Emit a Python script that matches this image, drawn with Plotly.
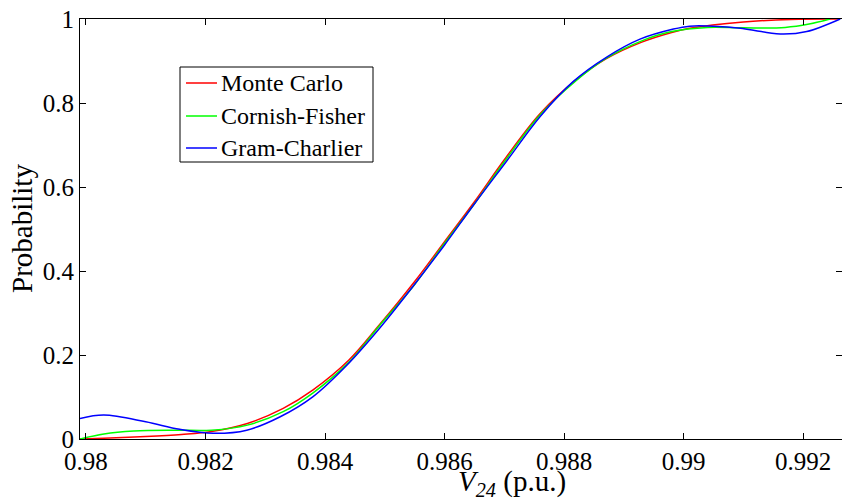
import plotly.graph_objects as go

# Monte Carlo
mc_x = [0.9799, 0.9803, 0.9810, 0.9816, 0.9821, 0.9827, 0.9833, 0.9838, 0.9844, 0.9849,
        0.9855, 0.9860, 0.9865, 0.9870, 0.9876, 0.9882, 0.9887, 0.9893, 0.9898, 0.9901,
        0.9910, 0.9918, 0.9926]
mc_y = [0.0, 0.002, 0.006, 0.011, 0.018, 0.037, 0.073, 0.117, 0.188, 0.270,
        0.375, 0.470, 0.565, 0.665, 0.775, 0.855, 0.905, 0.945, 0.968, 0.978,
        0.993, 0.999, 1.0]

# Cornish-Fisher
cf_x = [0.9799, 0.9803, 0.9808, 0.9815, 0.9821, 0.9827, 0.9833, 0.9838, 0.9844, 0.9849,
        0.9855, 0.9860, 0.9865, 0.9870, 0.9876, 0.9882, 0.9887, 0.9893, 0.9898, 0.9904,
        0.9910, 0.9917, 0.9921, 0.99245]
cf_y = [0.0, 0.012, 0.019, 0.021, 0.021, 0.033, 0.065, 0.110, 0.183, 0.268,
        0.368, 0.466, 0.560, 0.660, 0.772, 0.853, 0.906, 0.948, 0.970, 0.980,
        0.979, 0.980, 0.988, 1.0]

# Gram-Charlier
gc_x = [0.9799, 0.9803, 0.9810, 0.98157, 0.98213, 0.98269, 0.98325, 0.9838, 0.98436, 0.98492,
        0.98548, 0.9860, 0.98648, 0.98704, 0.9876, 0.98816, 0.98872, 0.98927, 0.98983, 0.9901,
        0.9905, 0.99095, 0.9913, 0.99167, 0.99206, 0.99262]
gc_y = [0.049, 0.057, 0.041, 0.023, 0.0135, 0.021, 0.053, 0.101, 0.175, 0.265,
        0.365, 0.462, 0.556, 0.662, 0.768, 0.852, 0.910, 0.952, 0.976, 0.983,
        0.983, 0.978, 0.970, 0.964, 0.970, 1.0]

series_names = ["Monte Carlo", "Cornish-Fisher", "Gram-Charlier"]
series_colors = ["#ff0000", "#00ff00", "#0000ff"]

x_ticks = [0.98, 0.982, 0.984, 0.986, 0.988, 0.99, 0.992]
x_labels = ["0.98", "0.982", "0.984", "0.986", "0.988", "0.99", "0.992"]
y_ticks = [0, 0.2, 0.4, 0.6, 0.8, 1.0]
y_labels = ["0", "0.2", "0.4", "0.6", "0.8", "1"]

FONT = "Liberation Serif"

# plot area in pixels (for placing the legend box)
W, H = 842, 500
ML, MR, MT, MB = 80, 0, 19, 61
PW, PH = W - ML - MR, H - MT - MB


def px(xp):
    return (xp - ML) / PW


def py(yp):
    return (H - MB - yp) / PH


fig = go.Figure()
for xs, ys, nm, col in zip([mc_x, cf_x, gc_x], [mc_y, cf_y, gc_y], series_names, series_colors):
    fig.add_trace(go.Scatter(x=xs, y=ys, mode="lines", name=nm, showlegend=False,
                             line=dict(color=col, width=1.5, shape="spline", smoothing=1.0)))

# legend box drawn with shapes + real text annotations
shapes = [dict(type="rect", xref="paper", yref="paper",
               x0=px(180), x1=px(373), y0=py(67), y1=py(162),
               line=dict(color="black", width=1), fillcolor="white", layer="above")]
annotations = []
row_y = [83, 116, 148]
for nm, col, ry in zip(series_names, series_colors, row_y):
    shapes.append(dict(type="line", xref="paper", yref="paper",
                       x0=px(186), x1=px(217), y0=py(ry), y1=py(ry),
                       line=dict(color=col, width=1.5), layer="above"))
    annotations.append(dict(text=nm, xref="paper", yref="paper", x=px(219), y=py(ry),
                            xanchor="left", yanchor="middle", showarrow=False,
                            font=dict(family=FONT, size=24, color="black")))

annotations += [
    dict(text="<i>V</i><sub><i>24</i></sub> (p.u.)", xref="paper", yref="paper",
         x=0.567, y=0, yshift=-44, xanchor="center", yanchor="middle",
         showarrow=False, font=dict(family=FONT, size=29, color="black")),
    dict(text="Probability", xref="paper", yref="paper",
         x=0, xshift=-58, y=0.5, xanchor="center", yanchor="middle",
         textangle=-90, showarrow=False, font=dict(family=FONT, size=29, color="black")),
]

fig.update_layout(
    width=W, height=H,
    margin=dict(l=ML, r=MR, t=MT, b=MB),
    paper_bgcolor="white", plot_bgcolor="white",
    font=dict(family=FONT, size=25, color="black"),
    showlegend=False,
    xaxis=dict(range=[0.9799, 0.99265], tickvals=x_ticks, ticktext=x_labels,
               ticks="inside", ticklen=6, tickcolor="black", showline=True,
               linecolor="black", linewidth=1, mirror="ticks", showgrid=False,
               zeroline=False, tickfont=dict(family=FONT, size=25, color="black")),
    yaxis=dict(range=[0, 1], tickvals=y_ticks, ticktext=y_labels,
               ticks="inside", ticklen=6, tickcolor="black", showline=True,
               linecolor="black", linewidth=1, mirror="ticks", showgrid=False,
               zeroline=False, tickfont=dict(family=FONT, size=25, color="black")),
    shapes=shapes,
    annotations=annotations,
)

fig.write_html("out.html")
